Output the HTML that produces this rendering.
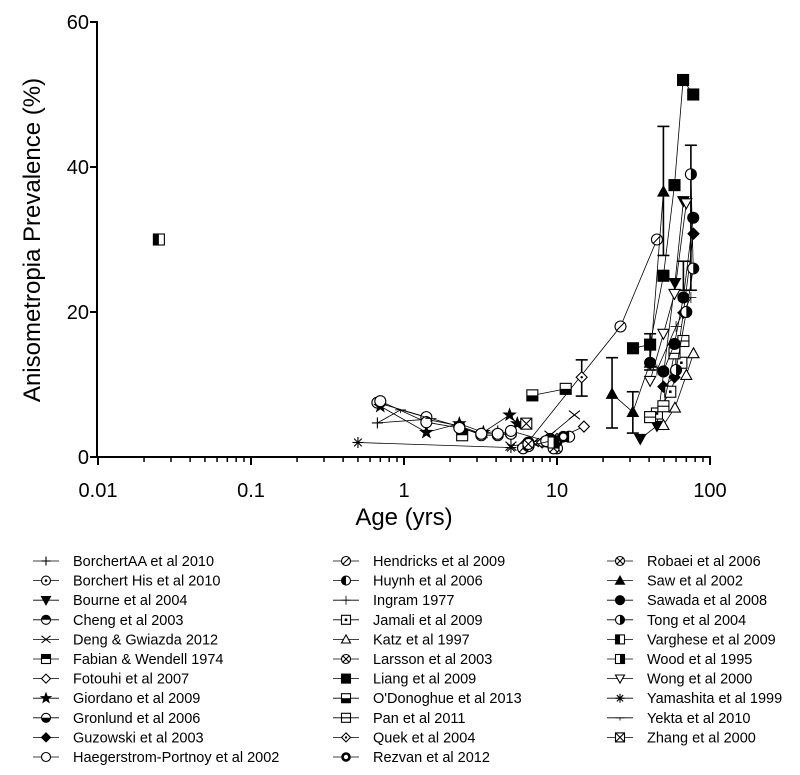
<!DOCTYPE html>
<html><head><meta charset="utf-8"><style>
body{margin:0;background:#fff;}
svg{display:block;font-family:"Liberation Sans",Arial,sans-serif;}
</style></head><body>
<svg id="chart" width="800" height="775" viewBox="0 0 800 775"></svg>
<script>
const seriesNames=["BorchertAA et al 2010","Borchert His et al 2010","Bourne et al 2004","Cheng et al 2003","Deng & Gwiazda 2012","Fabian & Wendell 1974","Fotouhi et al 2007","Giordano et al 2009","Gronlund et al 2006","Guzowski et al 2003","Haegerstrom-Portnoy et al 2002","Hendricks et al 2009","Huynh et al 2006","Ingram 1977","Jamali et al 2009","Katz et al 1997","Larsson et al 2003","Liang et al 2009","O'Donoghue et al 2013","Pan et al 2011","Quek et al 2004","Rezvan et al 2012","Robaei et al 2006","Saw et al 2002","Sawada et al 2008","Tong et al 2004","Varghese et al 2009","Wood et al 1995","Wong et al 2000","Yamashita et al 1999","Yekta et al 2010","Zhang et al 2000"];
const seriesMarkers=["plus","circleDot","triDownFilled","circleTop","cross","squareTop","diamond","star","circleBottom","diamondFilled","circle","circleSlash","circleLeft","plusThin","squareDot","tri","circleX","squareFilled","squareBottom","squareLine","diamondDot","circleBold","circleX","triFilled","circleFilled","circleRight","squareLeft","squareRight","triDown","asterisk","tick","squareX"];
const seriesAges=[
[0.67,1.4,2.3,3.2,4.1,5.0],
[0.67,1.4,2.3,3.2,4.1,5.0],
[35,45,59,67],
[6.5,9],
[5,7,9,13],
[2.4],
[6,8,10,15],
[0.7,1.4,2.3,3.3,4.9,5.5],
[6.5],
[49.6,58.6,67,78],
[0.7,1.4,2.3,3.2,4.1,5,8.5],
[6,26,45],
[6.5,12],
[45,60,75],
[45,55,65],
[49.6,59,70,78],
[10],
[31.4,40.6,49.6,58.6,66.7,77.7],
[6.9,11.4],
[40.6,49.6,58.6,67],
[14.5],
[10,11],
[6.5,9.5],
[22.9,31.3,40.6,49.6],
[40.6,49.6,58.6,67,77.7],
[60,70,77.7,75],
[0.025],
[9.5],
[40.6,49.6,58.6,70],
[0.5,5],
[0.67,0.95,1.5],
[6.3]];
const seriesValues=[
[4.7,5.2,4.3,3.2,3.6,2.8],
[7.5,5.5,4.2,3.0,3.0,3.2],
[2.5,4.3,24,35.3],
[2.0,2.5],
[1.5,2,3,5.8],
[3.0],
[1.5,2,2.5,4.2],
[7,3.4,4.6,3.4,5.8,4.6],
[1.5],
[9.7,11,19.9,30.8],
[7.7,4.8,4.0,3.2,3.2,3.6,2.2],
[1.2,18,30],
[1.5,2.8],
[12,18,22],
[6,9,13],
[4.4,6.8,11.3,14.3],
[1.2],
[15,15.5,25,37.5,52,50],
[8.5,9.4],
[5.5,7,14.3,16],
[11],
[2.2,2.8],
[1.8,1.2],
[8.7,6.2,13,36.6],
[13,11.8,15.6,22,33],
[12,20,26,39],
[30],
[2],
[10.5,17,22.5,35],
[2,1.3],
[4.7,6.5,5.3],
[4.6]];
const errSeriesIdx=[23,23,23,17,20,25,2];
const errAge=[22.9,31.3,49.6,40.6,14.5,75,67];
const errLow=[4,3.3,27.8,12,8.4,23,23];
const errHigh=[13.7,9,45.6,17,13.4,43,27];
const yTicks=[0,20,40,60];
const xTicks=[0.01,0.1,1,10,100];
const xTickLabels=["0.01","0.1","1","10","100"];

const NS="http://www.w3.org/2000/svg";
const svg=document.getElementById('chart');
function X(a){return 98+153*(Math.log10(a)+2);}
function Y(v){return 457-7.25*v;}
function el(t,at,p){const e=document.createElementNS(NS,t);for(const k in at)e.setAttribute(k,at[k]);(p||svg).appendChild(e);return e;}

function marker(g,type,cx,cy,s){
  const r=s;const st={stroke:'#000','stroke-width':1.1,fill:'#fff'};
  const circ=(f)=>el('circle',Object.assign({},st,{cx,cy,r,fill:f||'#fff'}),g);
  const sq=(f)=>el('rect',Object.assign({},st,{x:cx-r,y:cy-r,width:2*r,height:2*r,fill:f||'#fff'}),g);
  const ln=(x1,y1,x2,y2,w)=>el('line',{x1,y1,x2,y2,stroke:'#000','stroke-width':w||1.1},g);
  const pg=(pts,f)=>el('polygon',Object.assign({},st,{points:pts.map(p=>p.join(',')).join(' '),fill:f||'#fff'}),g);
  switch(type){
    case 'plus':ln(cx-r,cy,cx+r,cy);ln(cx,cy-r,cx,cy+r);break;
    case 'plusThin':ln(cx-r,cy,cx+r,cy,0.8);ln(cx,cy-r,cx,cy+r,0.8);break;
    case 'circleDot':circ();el('circle',{cx,cy,r:1.3,fill:'#000'},g);break;
    case 'circle':circ();break;
    case 'circleBold':el('circle',{cx,cy,r:r-1,fill:'#fff',stroke:'#000','stroke-width':2.6},g);break;
    case 'circleFilled':circ('#000');break;
    case 'circleSlash':circ();ln(cx-r*0.7,cy+r*0.7,cx+r*0.7,cy-r*0.7);break;
    case 'circleX':circ();ln(cx-r*0.7,cy+r*0.7,cx+r*0.7,cy-r*0.7);ln(cx-r*0.7,cy-r*0.7,cx+r*0.7,cy+r*0.7);break;
    case 'circleTop':circ();el('path',{d:`M${cx-r},${cy} A${r},${r} 0 0 1 ${cx+r},${cy} Z`,fill:'#000'},g);break;
    case 'circleBottom':circ();el('path',{d:`M${cx-r},${cy} A${r},${r} 0 0 0 ${cx+r},${cy} Z`,fill:'#000'},g);break;
    case 'circleLeft':circ();el('path',{d:`M${cx},${cy-r} A${r},${r} 0 0 0 ${cx},${cy+r} Z`,fill:'#000'},g);break;
    case 'circleRight':circ();el('path',{d:`M${cx},${cy-r} A${r},${r} 0 0 1 ${cx},${cy+r} Z`,fill:'#000'},g);break;
    case 'squareFilled':sq('#000');break;
    case 'squareDot':sq();el('rect',{x:cx-1.3,y:cy-1.3,width:2.6,height:2.6,fill:'#000'},g);break;
    case 'squareLine':sq();ln(cx-r,cy,cx+r,cy);break;
    case 'squareX':sq();ln(cx-r,cy-r,cx+r,cy+r);ln(cx-r,cy+r,cx+r,cy-r);break;
    case 'squareTop':sq();el('rect',{x:cx-r,y:cy-r,width:2*r,height:r,fill:'#000'},g);break;
    case 'squareBottom':sq();el('rect',{x:cx-r,y:cy,width:2*r,height:r,fill:'#000'},g);break;
    case 'squareLeft':sq();el('rect',{x:cx-r,y:cy-r,width:r,height:2*r,fill:'#000'},g);break;
    case 'squareRight':sq();el('rect',{x:cx,y:cy-r,width:r,height:2*r,fill:'#000'},g);break;
    case 'diamond':pg([[cx,cy-r],[cx+r,cy],[cx,cy+r],[cx-r,cy]]);break;
    case 'diamondDot':pg([[cx,cy-r],[cx+r,cy],[cx,cy+r],[cx-r,cy]]);el('circle',{cx,cy,r:1.2,fill:'#000'},g);break;
    case 'diamondFilled':pg([[cx,cy-r],[cx+r,cy],[cx,cy+r],[cx-r,cy]],'#000');break;
    case 'tri':pg([[cx,cy-r],[cx+r,cy+r*0.8],[cx-r,cy+r*0.8]]);break;
    case 'triFilled':pg([[cx,cy-r],[cx+r,cy+r*0.8],[cx-r,cy+r*0.8]],'#000');break;
    case 'triDown':pg([[cx,cy+r],[cx+r,cy-r*0.8],[cx-r,cy-r*0.8]]);break;
    case 'triDownFilled':pg([[cx,cy+r],[cx+r,cy-r*0.8],[cx-r,cy-r*0.8]],'#000');break;
    case 'cross':ln(cx-r,cy-r*0.8,cx+r,cy+r*0.8);ln(cx-r,cy+r*0.8,cx+r,cy-r*0.8);break;
    case 'asterisk':ln(cx-r,cy,cx+r,cy);ln(cx,cy-r,cx,cy+r);ln(cx-r*0.7,cy-r*0.7,cx+r*0.7,cy+r*0.7);ln(cx-r*0.7,cy+r*0.7,cx+r*0.7,cy-r*0.7);break;
    case 'star':{const p=[];for(let i=0;i<10;i++){const rr=i%2?r*0.45:r*1.1;const a=-Math.PI/2+i*Math.PI/5;p.push([cx+rr*Math.cos(a),cy+rr*Math.sin(a)]);}pg(p,'#000');break;}
    case 'tick':ln(cx-r,cy,cx+r,cy,0.8);ln(cx,cy,cx,cy+r*0.6,0.8);break;
  }
}

// axes
const axes=el('g',{});


el('line',{x1:97,y1:21,x2:97,y2:458,stroke:'#000','stroke-width':2},axes);
el('line',{x1:96,y1:457,x2:711,y2:457,stroke:'#000','stroke-width':2},axes);
yTicks.forEach(v=>{
  el('line',{x1:90,y1:Y(v),x2:97,y2:Y(v),stroke:'#000','stroke-width':2},axes);
  const t=el('text',{x:89,y:Y(v)+7,'font-size':20,'text-anchor':'end'},axes);t.textContent=v;
  
  
});
for(let d=-2;d<2;d++){for(let m=2;m<10;m++){const x=X(m*Math.pow(10,d));el('line',{x1:x,y1:457,x2:x,y2:462,stroke:'#000','stroke-width':1.5},axes);}}
xTicks.forEach((v,i)=>{
  el('line',{x1:X(v),y1:457,x2:X(v),y2:465,stroke:'#000','stroke-width':2},axes);
  const t=el('text',{x:X(v),y:497,'font-size':20,'text-anchor':'middle'},axes);t.textContent=xTickLabels[i];
  
  
});
const xt=el('text',{x:404,y:525,'font-size':24,'text-anchor':'middle'});xt.textContent='Age (yrs)';


const yt=el('text',{x:0,y:0,'font-size':24,'text-anchor':'middle',transform:'translate(40,240) rotate(-90)'});yt.textContent='Anisometropia Prevalence (%)';



// error bars
errAge.forEach((a,i)=>{
  const g=el('g',{});
  
  
  const x=X(a);
  el('line',{x1:x,y1:Y(errLow[i]),x2:x,y2:Y(errHigh[i]),stroke:'#000','stroke-width':1.6},g);
  el('line',{x1:x-6,y1:Y(errLow[i]),x2:x+6,y2:Y(errLow[i]),stroke:'#000','stroke-width':1.6},g);
  el('line',{x1:x-6,y1:Y(errHigh[i]),x2:x+6,y2:Y(errHigh[i]),stroke:'#000','stroke-width':1.6},g);
});

// series
seriesNames.forEach((n,i)=>{
  const g=el('g',{});
  
  
  const ages=seriesAges[i],vals=seriesValues[i];
  if(ages.length>1){
    el('polyline',{points:ages.map((a,j)=>X(a)+','+Y(vals[j])).join(' '),fill:'none',stroke:'#000','stroke-width':0.8},g);
  }
  ages.forEach((a,j)=>{
    const mg=el('g',{},g);
    
    
    marker(mg,seriesMarkers[i],X(a),Y(vals[j]),5.5);
  });
});

// legend
const legend=el('g',{});


const colSym=[33,333,607],colText=[73,373,647],colRows=[11,11,10];
let idx=0;
for(let c=0;c<3;c++){for(let r=0;r<colRows[c];r++){
  const i=idx++;const y=561+r*19.6;
  const g=el('g',{},legend);
  
  
  el('line',{x1:colSym[c],y1:y,x2:colSym[c]+26,y2:y,stroke:'#000','stroke-width':0.8},g);
  marker(g,seriesMarkers[i],colSym[c]+13,y,4.5);
  const t=el('text',{x:colText[c],y:y+5,'font-size':14.5},g);t.textContent=seriesNames[i];
}}
</script>
</body></html>
